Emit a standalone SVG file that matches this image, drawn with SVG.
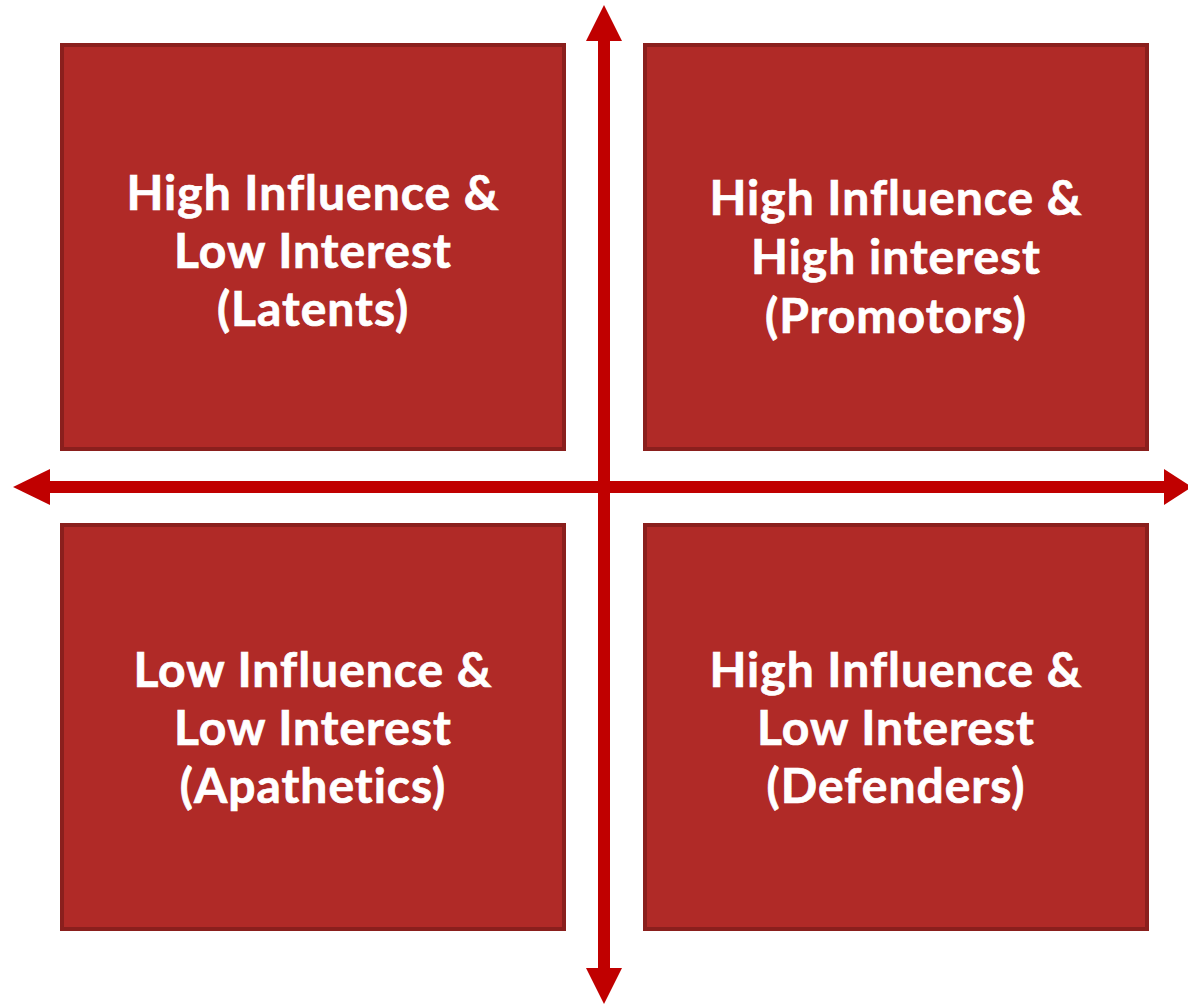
<svg xmlns="http://www.w3.org/2000/svg" width="1188" height="1005" viewBox="0 0 1188 1005">
<style>
.box{fill:#B02A27;stroke:#8A1F1D;stroke-width:4}
.lbl{font-family:Lato,"Liberation Sans",sans-serif;font-weight:bold;font-size:48px;letter-spacing:1px;fill:#FFFFFF;stroke:#FFFFFF;stroke-width:0.7;text-anchor:middle}
.ax{fill:#C00000}
</style>
<rect width="1188" height="1005" fill="#FFFFFF"/>
<g id="q-top-left">
<rect class="box" x="62" y="45" width="502" height="404"/>
<text class="lbl" x="313" y="210">High Influence &amp;</text>
<text class="lbl" x="313" y="268">Low Interest</text>
<text class="lbl" x="313" y="326">(Latents)</text>
</g>
<g id="q-top-right">
<rect class="box" x="645" y="45" width="502" height="404"/>
<text class="lbl" x="896" y="215">High Influence &amp;</text>
<text class="lbl" x="896" y="274">High interest</text>
<text class="lbl" x="896" y="333">(Promotors)</text>
</g>
<g id="q-bottom-left">
<rect class="box" x="62" y="525" width="502" height="404"/>
<text class="lbl" x="313" y="687">Low Influence &amp;</text>
<text class="lbl" x="313" y="745">Low Interest</text>
<text class="lbl" x="313" y="803">(Apathetics)</text>
</g>
<g id="q-bottom-right">
<rect class="box" x="645" y="525" width="502" height="404"/>
<text class="lbl" x="896" y="687">High Influence &amp;</text>
<text class="lbl" x="896" y="745">Low Interest</text>
<text class="lbl" x="896" y="803">(Defenders)</text>
</g>
<g id="connectors">
<rect class="ax" x="598" y="38" width="12" height="933"/>
<polygon class="ax" points="604,5 622,41 586,41"/>
<polygon class="ax" points="604,1004 622,968 586,968"/>
<rect class="ax" x="48" y="481" width="1118" height="12"/>
<polygon class="ax" points="13,487 50,469 50,505"/>
<polygon class="ax" points="1192,487 1164,469 1164,505"/>
</g>
</svg>
